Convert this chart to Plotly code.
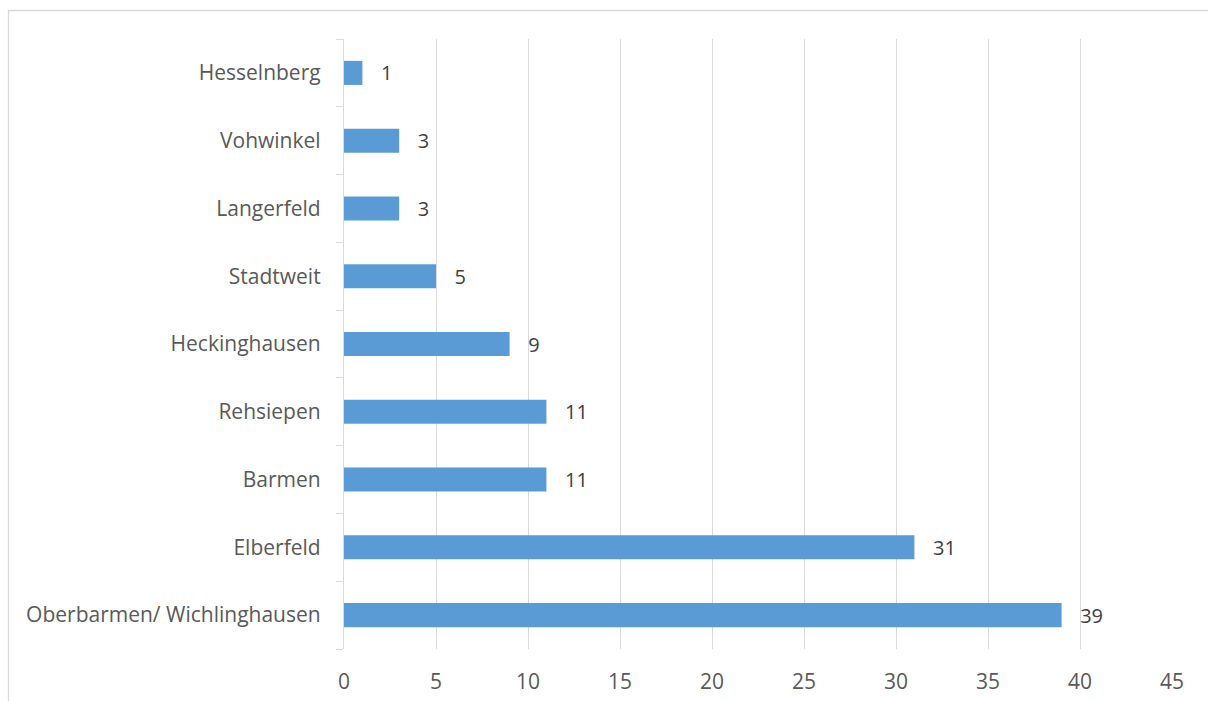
import plotly.graph_objects as go

categories = ["Oberbarmen/ Wichlinghausen", "Elberfeld", "Barmen", "Rehsiepen",
              "Heckinghausen", "Stadtweit", "Langerfeld", "Vohwinkel", "Hesselnberg"]
values = [39, 31, 11, 11, 9, 5, 3, 3, 1]
x_ticks = [0, 5, 10, 15, 20, 25, 30, 35, 40, 45]

W, H = 1208, 701
L, R, T, B = 344, 36, 39, 52
pw, ph = W - L - R, H - T - B

def px_x(p):
    return (p - L) / pw

def px_y(p):
    return 1 - (p - T) / ph

font_family = "Open Sans, Lato, Liberation Sans, sans-serif"
FS = 21

fig = go.Figure(go.Bar(
    y=categories, x=values, orientation="h",
    marker=dict(color="#5b9bd5", line=dict(width=0)),
    width=0.355,
    text=["   " + str(v) for v in values], textposition="outside",
    constraintext="none",
    textfont=dict(size=FS - 1, color="#404040", family=font_family),
    cliponaxis=False,
))

fig.update_layout(
    width=W, height=H,
    margin=dict(l=L, r=R, t=T, b=B, pad=0, autoexpand=False),
    paper_bgcolor="white", plot_bgcolor="white",
    showlegend=False,
    font=dict(family=font_family, color="#595959", size=FS),
    xaxis=dict(range=[0, 45], tickvals=x_ticks, showgrid=True, gridcolor="#d9d9d9",
               gridwidth=1.3, zeroline=False, showline=False, ticks="",
               automargin=False,
               tickfont=dict(size=FS, color="#595959"), ticklabelstandoff=18),
    yaxis=dict(type="category", categoryorder="array", categoryarray=categories,
               showline=True, linecolor="#d9d9d9", linewidth=1.3,
               ticks="outside", ticklen=7, tickcolor="#d9d9d9", tickson="boundaries",
               automargin=False,
               tickfont=dict(size=FS, color="#595959"), showgrid=False,
               ticklabelstandoff=18),
    shapes=[dict(type="rect", xref="paper", yref="paper",
                 x0=px_x(8.5), x1=px_x(1230), y0=px_y(730), y1=px_y(10.5),
                 line=dict(color="#d9d9d9", width=1.3), fillcolor="rgba(0,0,0,0)",
                 layer="below")],
)

fig.write_html("out.html")
